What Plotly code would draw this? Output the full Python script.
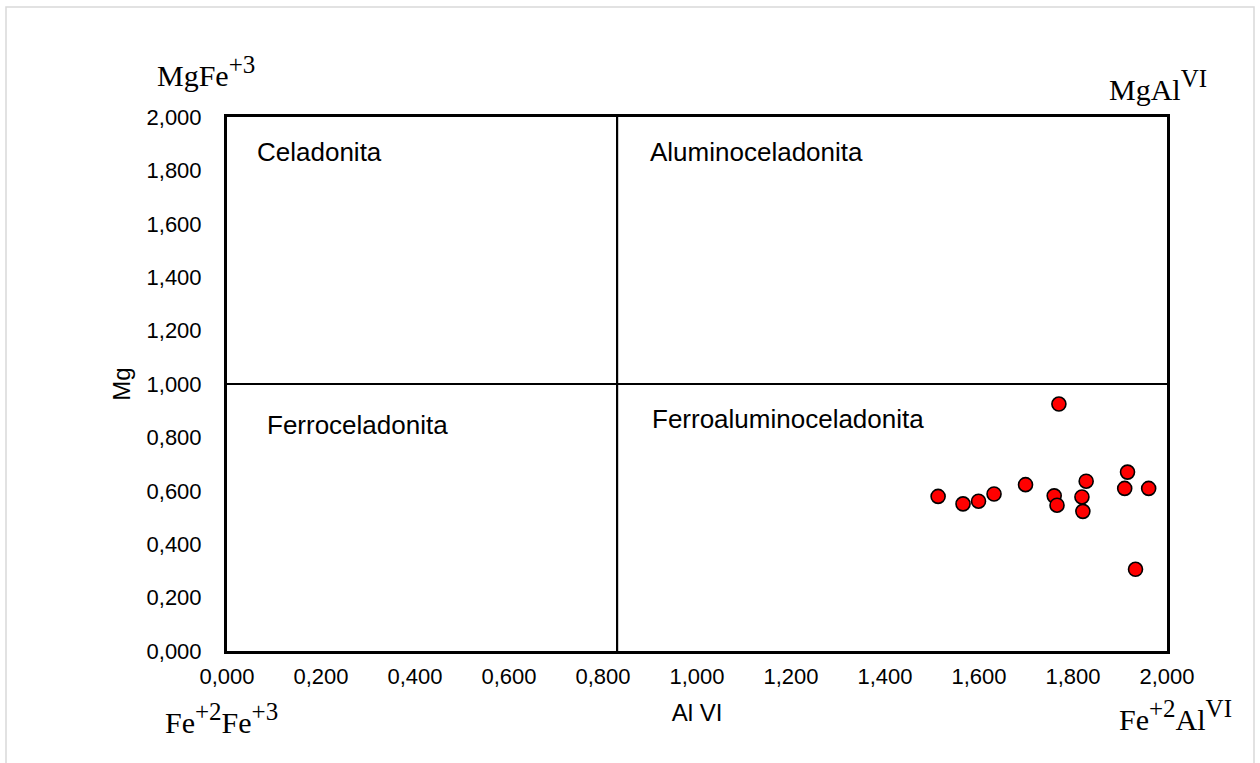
import plotly.graph_objects as go

# Data (Al VI vs Mg)
al_vi = [1.513, 1.566, 1.599, 1.632, 1.699, 1.760, 1.766, 1.770, 1.819, 1.821, 1.828, 1.910, 1.916, 1.961, 1.933]
mg = [0.579, 0.551, 0.561, 0.588, 0.623, 0.581, 0.546, 0.925, 0.577, 0.523, 0.636, 0.609, 0.670, 0.609, 0.306]

x_ticks = [0, 0.2, 0.4, 0.6, 0.8, 1.0, 1.2, 1.4, 1.6, 1.8, 2.0]
y_ticks = [0, 0.2, 0.4, 0.6, 0.8, 1.0, 1.2, 1.4, 1.6, 1.8, 2.0]

divider_x = 0.83
divider_y = 1.0

field_names = ["Celadonita", "Aluminoceladonita", "Ferroceladonita", "Ferroaluminoceladonita"]
field_x = [0.06, 0.895, 0.081, 0.90]
field_y = [1.869, 1.869, 0.846, 0.869]

def sup(s):
    return "<sup><span style='font-size:25px'>" + s + "</span></sup>"

corner_texts = ["MgFe" + sup("+3"), "MgAl" + sup("VI"),
                "Fe" + sup("+2") + "Fe" + sup("+3"), "Fe" + sup("+2") + "Al" + sup("VI")]

L, R, T, B = 227, 1167, 117, 651
W, H = 1260, 763
pw, ph = R - L, B - T

def px(xp):
    return (xp - L) / pw

def py(yp):
    return (B - yp) / ph

sans = "Liberation Sans, Arial, sans-serif"
serif = "Liberation Serif, DejaVu Serif, serif"

fig = go.Figure()

fig.add_trace(go.Scatter(
    x=al_vi, y=mg, mode="markers",
    marker=dict(size=14, color="#FF0000", line=dict(color="black", width=1.6)),
    showlegend=False, hoverinfo="x+y",
))

# Field dividers
fig.add_shape(type="line", x0=0, x1=2, y0=divider_y, y1=divider_y, xref="x", yref="y",
              line=dict(color="black", width=2.2))
fig.add_shape(type="line", x0=divider_x, x1=divider_x, y0=0, y1=2, xref="x", yref="y",
              line=dict(color="black", width=2.2))

# outer light border of chart area
fig.add_shape(type="rect", xref="paper", yref="paper",
              x0=px(6), x1=px(1254), y0=py(7), y1=py(800),
              line=dict(color="#d9d9d9", width=1.5), layer="below")

for name, fx, fy in zip(field_names, field_x, field_y):
    fig.add_annotation(x=fx, y=fy, xref="x", yref="y", text=name, showarrow=False,
                       xanchor="left", yanchor="middle",
                       font=dict(family=sans, size=26, color="black"))

# (left x, caps-centre y) in pixels
corner_pos = [(155, 75), (1107, 90), (163, 722), (1117, 719)]
for txt, (cx, cy) in zip(corner_texts, corner_pos):
    fig.add_annotation(x=px(cx), y=py(cy - 4), xref="paper", yref="paper", text=txt, showarrow=False,
                       xanchor="left", yanchor="middle",
                       font=dict(family=serif, size=30, color="black"))

axis_common = dict(
    range=[0, 2], showgrid=False, zeroline=False, showline=True, mirror=True,
    linecolor="black", linewidth=3, ticks="", tickformat=".3f", automargin=False,
    tickfont=dict(family=sans, size=22, color="black"),
)

fig.update_layout(
    width=W, height=H,
    margin=dict(l=L, r=W - R, t=T, b=H - B),
    paper_bgcolor="white", plot_bgcolor="white",
    separators=",.",
    xaxis=dict(**axis_common, tickvals=x_ticks, ticklabelstandoff=4,
               title=dict(text="Al VI", font=dict(family=sans, size=24, color="black"), standoff=16)),
    yaxis=dict(**axis_common, tickvals=y_ticks, ticklabelstandoff=18,
               title=dict(text="Mg", font=dict(family=sans, size=24, color="black"), standoff=10)),
)

fig.write_html("out.html")
